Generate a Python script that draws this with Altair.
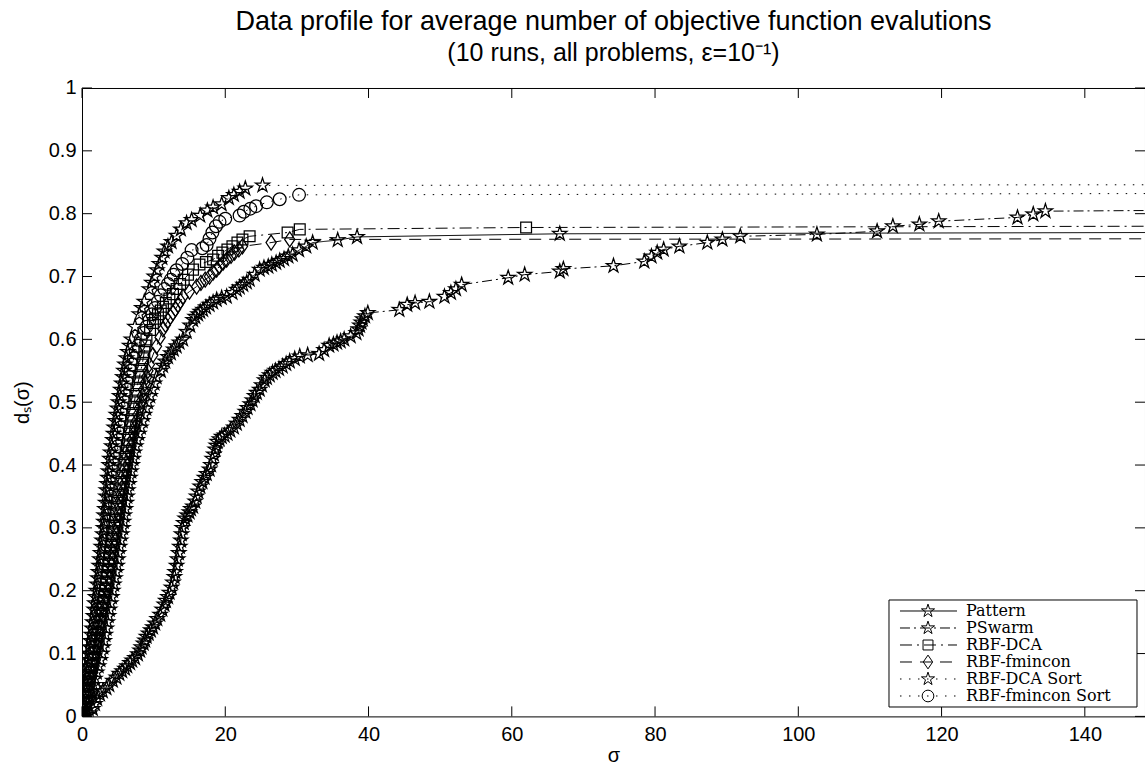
import altair as alt
import pandas as pd

# ---------------- data: (sigma, d_s) ----------------
series_names = ["Pattern", "PSwarm", "RBF-DCA", "RBF-fmincon", "RBF-DCA Sort", "RBF-fmincon Sort"]

pattern_pts = [
    (0.3, 0), (0.55, .01), (0.8, .02), (1.05, .03), (1.3, .04), (1.55, .05), (1.8, .06), (2.05, .07), (2.3, .08),
    (2.55, .09), (2.8, .10), (2.95, .11), (3.1, .12), (3.25, .13), (3.4, .14), (3.55, .15), (3.7, .16), (3.85, .17),
    (4.0, .18), (4.15, .19), (4.3, .20), (4.45, .21), (4.6, .22), (4.75, .23), (4.9, .24), (5.0, .25), (5.1, .26),
    (5.25, .27), (5.4, .28), (5.55, .29), (5.7, .30), (5.8, .31), (5.9, .32), (6.05, .33), (6.2, .34), (6.3, .35),
    (6.4, .36), (6.55, .37), (6.7, .38), (6.85, .39), (7.0, .40), (7.15, .41), (7.3, .42), (7.5, .43), (7.7, .44),
    (7.95, .45), (8.2, .46), (8.45, .47), (8.7, .48), (8.95, .49), (9.2, .50), (9.5, .51), (9.8, .52), (10.1, .53),
    (10.4, .54), (11.0, .55), (11.3, .558), (11.6, .565), (12.0, .572), (12.4, .578), (12.8, .584), (13.2, .589),
    (13.6, .595), (14.1, .60), (14.6, .612), (15.1, .622), (15.5, .631), (15.8, .636), (16.2, .64), (16.5, .644),
    (16.9, .647), (17.3, .651), (17.8, .655), (18.3, .659), (18.8, .663), (19.5, .666), (20.2, .668), (21.0, .674),
    (21.6, .679), (22.0, .683), (22.5, .687), (23.0, .691), (23.4, .695), (24.1, .703), (24.8, .711), (25.4, .714),
    (26.0, .716), (26.5, .719), (27.1, .722), (27.6, .725), (28.2, .728), (28.8, .732), (29.4, .735), (30.3, .742),
    (31.3, .748), (32.2, .754), (35.7, .758), (38.4, .763), (66.7, .768)]

pswarm_pts = [
    (0.5, 0), (0.8, .003), (1.1, .005), (1.5, .012), (1.8, .02), (2.1, .028), (2.5, .035), (2.9, .04), (3.4, .045),
    (3.8, .05), (4.3, .057), (4.8, .062), (5.2, .068), (5.6, .072), (6.0, .076), (6.3, .08), (6.7, .085), (7.0, .089),
    (7.4, .093), (7.8, .099), (8.1, .105), (8.3, .11), (8.6, .116), (8.8, .121), (9.0, .127), (9.3, .132),
    (9.6, .137), (9.9, .142), (10.2, .148), (10.5, .155), (10.9, .162), (11.2, .17), (11.5, .178), (11.7, .184),
    (12.0, .19), (12.2, .197), (12.5, .205), (12.7, .213), (12.9, .222), (13.0, .23), (13.2, .24), (13.35, .25),
    (13.5, .26), (13.65, .27), (13.8, .28), (13.9, .29), (14.0, .30), (14.2, .308), (14.4, .315), (14.7, .32),
    (15.0, .325), (15.2, .33), (15.5, .334), (15.8, .342), (16.0, .35), (16.2, .358), (16.5, .366), (16.8, .373),
    (17.1, .38), (17.4, .386), (17.8, .393), (18.0, .40), (18.2, .41), (18.4, .417), (18.6, .425), (18.75, .431),
    (18.9, .437), (19.2, .441), (19.5, .445), (19.9, .447), (20.3, .45), (20.7, .455), (21.2, .46), (21.6, .466),
    (22.0, .472), (22.4, .478), (22.8, .485), (23.1, .491), (23.5, .497), (23.8, .503), (24.1, .51), (24.4, .515),
    (24.8, .52), (25.1, .527), (25.5, .535), (25.8, .539), (26.2, .543), (26.6, .547), (27.0, .55), (27.5, .553),
    (28.0, .557), (28.5, .561), (29.0, .565), (29.7, .569), (30.4, .573), (31.5, .575), (33.1, .577), (33.8, .583),
    (34.5, .59), (35.1, .592), (35.6, .595), (36.1, .597), (36.6, .60), (37.5, .605), (38.3, .61), (38.6, .616),
    (38.8, .622), (39.0, .627), (39.2, .632), (39.5, .637), (39.9, .642), (44.3, .647), (45.4, .655), (46.5, .658),
    (48.5, .66), (50.6, .668), (51.5, .674), (52.2, .68), (53.0, .687), (59.5, .698), (61.8, .703), (66.7, .708),
    (67.2, .712), (74.2, .717), (78.5, .724), (79.5, .732), (80.3, .738), (81.2, .743), (83.4, .748), (87.3, .754),
    (89.4, .759), (91.9, .764), (102.6, .767), (111.0, .772), (113.2, .78), (116.9, .783), (119.6, .788),
    (130.6, .794), (132.8, .799), (134.5, .804)]

rbfdca_pts = [
    (0, 0), (0.25, .01), (0.5, .02), (0.65, .03), (0.8, .04), (0.95, .05), (1.1, .06), (1.25, .07), (1.4, .08),
    (1.55, .09), (1.7, .10), (1.85, .11), (2.0, .12), (2.15, .13), (2.3, .14), (2.45, .15), (2.6, .16), (2.75, .17),
    (2.9, .18), (3.05, .19), (3.2, .20), (3.3, .21), (3.4, .22), (3.55, .23), (3.7, .24), (3.8, .25), (3.9, .26),
    (4.05, .27), (4.2, .28), (4.35, .29), (4.5, .30), (4.6, .31), (4.7, .32), (4.8, .33), (4.9, .34), (5.05, .35),
    (5.2, .36), (5.35, .37), (5.5, .38), (5.65, .39), (5.8, .40), (5.95, .41), (6.1, .42), (6.25, .43), (6.4, .44),
    (6.55, .45), (6.7, .46), (6.85, .47), (7.0, .48), (7.15, .49), (7.3, .50), (7.45, .51), (7.6, .52), (7.8, .53),
    (8.0, .54), (8.2, .55), (8.4, .56), (8.55, .57), (8.7, .58), (8.85, .59), (9.0, .60), (9.5, .615), (9.9, .626),
    (10.2, .633), (10.6, .64), (11.0, .646), (11.3, .652), (11.7, .658), (12.2, .665), (12.7, .672), (13.2, .68),
    (13.7, .688), (14.2, .695), (14.8, .703), (15.5, .711), (16.4, .719), (17.3, .723), (18.3, .727), (19.0, .733),
    (19.6, .738), (20.3, .743), (21.0, .748), (21.7, .754), (22.4, .759), (23.4, .764), (28.7, .77), (30.4, .775),
    (62.0, .778)]

rbffmin_pts = [
    (0, 0), (0.3, .01), (0.6, .02), (0.8, .03), (1.0, .04), (1.15, .05), (1.3, .06), (1.5, .07), (1.7, .08),
    (1.85, .09), (2.0, .10), (2.15, .11), (2.3, .12), (2.45, .13), (2.6, .14), (2.75, .15), (2.9, .16), (3.05, .17),
    (3.2, .18), (3.4, .19), (3.6, .20), (3.75, .21), (3.9, .22), (4.0, .23), (4.1, .24), (4.25, .25), (4.4, .26),
    (4.55, .27), (4.7, .28), (4.85, .29), (5.0, .30), (5.15, .31), (5.3, .32), (5.4, .33), (5.5, .34), (5.65, .35),
    (5.8, .36), (5.95, .37), (6.1, .38), (6.25, .39), (6.4, .40), (6.55, .41), (6.7, .42), (6.85, .43), (7.0, .44),
    (7.2, .45), (7.4, .46), (7.6, .47), (7.8, .48), (8.0, .49), (8.2, .50), (8.4, .51), (8.6, .52), (8.8, .53),
    (9.0, .54), (9.2, .55), (9.4, .56), (9.9, .575), (10.4, .589), (10.9, .603), (11.3, .616), (11.65, .623),
    (12.0, .63), (12.35, .636), (12.7, .642), (13.05, .648), (13.4, .655), (13.75, .661), (14.1, .668), (15.0, .676),
    (16.0, .684), (16.6, .69), (17.2, .695), (17.8, .70), (18.3, .706), (18.8, .711), (19.2, .716), (19.7, .722),
    (20.2, .727), (20.8, .733), (21.3, .738), (21.9, .743), (22.4, .748), (26.4, .754), (29.0, .759)]

dcasort_pts = [
    (0, 0), (0.15, .01), (0.3, .02), (0.4, .03), (0.5, .04), (0.6, .05), (0.7, .06), (0.78, .07), (0.85, .08),
    (0.92, .09), (1.0, .10), (1.1, .11), (1.2, .12), (1.3, .13), (1.4, .14), (1.5, .15), (1.6, .16), (1.7, .17),
    (1.8, .18), (1.9, .19), (2.0, .20), (2.1, .21), (2.2, .22), (2.3, .23), (2.4, .24), (2.5, .25), (2.6, .26),
    (2.7, .27), (2.8, .28), (2.9, .29), (3.0, .30), (3.05, .31), (3.1, .32), (3.2, .33), (3.3, .34), (3.35, .35),
    (3.4, .36), (3.5, .37), (3.6, .38), (3.7, .39), (3.8, .40), (3.9, .41), (4.0, .42), (4.15, .43), (4.3, .44),
    (4.4, .45), (4.5, .46), (4.65, .47), (4.8, .48), (4.95, .49), (5.1, .50), (5.25, .51), (5.4, .52), (5.55, .53),
    (5.7, .54), (5.85, .55), (6.0, .56), (6.2, .57), (6.4, .58), (6.65, .59), (6.9, .60), (7.4, .62), (8.0, .64),
    (8.35, .65), (8.7, .66), (9.4, .68), (9.75, .69), (10.1, .70), (10.45, .71), (10.8, .72), (11.2, .73),
    (11.5, .74), (12.0, .748), (12.5, .755), (13.2, .765), (13.8, .775), (14.6, .785), (15.3, .79), (16.5, .797),
    (17.5, .805), (18.3, .81), (19.5, .815), (20.5, .825), (21.2, .83), (22.0, .835), (22.8, .84), (25.2, .845)]

fminsort_pts = [
    (0, 0), (0.2, .01), (0.4, .02), (0.55, .03), (0.7, .04), (0.8, .05), (0.9, .06), (1.0, .07), (1.1, .08),
    (1.2, .09), (1.3, .10), (1.4, .11), (1.5, .12), (1.65, .13), (1.8, .14), (1.9, .15), (2.0, .16), (2.1, .17),
    (2.2, .18), (2.35, .19), (2.5, .20), (2.6, .21), (2.7, .22), (2.8, .23), (2.9, .24), (3.0, .25), (3.1, .26),
    (3.2, .27), (3.3, .28), (3.4, .29), (3.5, .30), (3.6, .31), (3.7, .32), (3.8, .33), (3.9, .34), (4.0, .35),
    (4.1, .36), (4.2, .37), (4.3, .38), (4.45, .39), (4.6, .40), (4.75, .41), (4.9, .42), (5.0, .43), (5.1, .44),
    (5.25, .45), (5.4, .46), (5.55, .47), (5.7, .48), (5.85, .49), (6.0, .50), (6.15, .51), (6.3, .52), (6.45, .53),
    (6.6, .54), (6.8, .55), (7.0, .56), (7.25, .57), (7.5, .58), (7.85, .59), (8.2, .60), (8.6, .61), (9.0, .62),
    (9.4, .63), (9.8, .64), (10.2, .65), (10.6, .66), (11.0, .67), (11.5, .68), (12.0, .688), (12.4, .695),
    (12.8, .703), (13.2, .71), (14.0, .72), (14.7, .73), (15.3, .742), (16.8, .745), (17.4, .75), (17.8, .76),
    (18.2, .77), (18.7, .78), (19.2, .787), (20.0, .792), (22.0, .797), (22.6, .803), (23.5, .808), (24.3, .812),
    (25.8, .818), (27.6, .823), (30.3, .83)]

final_values = [0.770, 0.805, 0.780, 0.760, 0.846, 0.832]

x_ticks = [0, 20, 40, 60, 80, 100, 120, 140]
y_ticks = [0, 0.1, 0.2, 0.3, 0.4, 0.5, 0.6, 0.7, 0.8, 0.9, 1.0]
X_MAX = 148.4

# ---------------- tables ----------------
all_pts = [pattern_pts, pswarm_pts, rbfdca_pts, rbffmin_pts, dcasort_pts, fminsort_pts]
pt_rows, ln_rows = [], []
for name, pts, fv in zip(series_names, all_pts, final_values):
    for k, (a, b) in enumerate(pts):
        pt_rows.append({"series": name, "s": a, "d": b, "k": k})
        ln_rows.append({"series": name, "s": a, "d": b, "k": k})
    ln_rows.append({"series": name, "s": X_MAX, "d": fv, "k": len(pts)})
df_pts = pd.DataFrame(pt_rows)
df_lines = pd.DataFrame(ln_rows)

W, H = 1063, 628.4

STAR = ("M0,-1L0.223,-0.307L0.951,-0.309L0.361,0.117L0.588,0.809L0,0.38L-0.588,0.809"
        "L-0.361,0.117L-0.951,-0.309L-0.223,-0.307Z")
SQUARE = "M-0.72,-0.72L0.72,-0.72L0.72,0.72L-0.72,0.72Z"
DIAMOND = "M0,-1.0L0.68,0L0,1.0L-0.68,0Z"
CIRCLE = "M-0.85,0A0.85,0.85,0,1,0,0.85,0A0.85,0.85,0,1,0,-0.85,0Z"

shape_scale = alt.Scale(domain=series_names, range=[STAR, STAR, SQUARE, DIAMOND, STAR, CIRCLE])
dash_scale = alt.Scale(domain=series_names,
                       range=[[1, 0], [10, 4, 2, 4], [12, 5, 2, 5], [12, 8], [1.5, 7.5], [1.5, 7.5]])

xscale = alt.Scale(domain=[0, X_MAX], nice=False, zero=False)
yscale = alt.Scale(domain=[0, 1], nice=False, zero=False)

AX_FONT = "Liberation Sans"
xaxis = alt.Axis(values=x_ticks, ticks=False, domain=False, grid=False, labelFont=AX_FONT, labelFontSize=20,
                 labelColor="black", labelPadding=8, labelFlush=False, labelOverlap=False, format="~g",
                 title="σ", titleFont=AX_FONT, titleFontSize=20, titleFontWeight="normal", titleColor="black",
                 titlePadding=1)
yaxis = alt.Axis(values=y_ticks, ticks=False, domain=False, grid=False, labelFont=AX_FONT, labelFontSize=20,
                 labelColor="black", labelPadding=6, labelFlush=False, labelOverlap=False, format="~g",
                 title="dₛ(σ)", titleFont=AX_FONT, titleFontSize=20, titleFontWeight="normal",
                 titleColor="black", titlePadding=16)

lines = alt.Chart(df_lines).mark_line(clip=True, color="black", strokeWidth=1).encode(
    x=alt.X("s:Q", scale=xscale, axis=xaxis),
    y=alt.Y("d:Q", scale=yscale, axis=yaxis),
    strokeDash=alt.StrokeDash("series:N", scale=dash_scale, legend=None),
    order="k:Q",
)

points = alt.Chart(df_pts).mark_point(clip=True, filled=False, color="black", strokeWidth=1.25, opacity=1,
                                      size=225).encode(
    x=alt.X("s:Q"),
    y=alt.Y("d:Q"),
    shape=alt.Shape("series:N", scale=shape_scale, legend=None),
)

# inward tick marks on all four sides (MATLAB box style)
df_xt = pd.DataFrame({"s": x_ticks})
df_yt = pd.DataFrame({"d": y_ticks})
ticks_bottom = alt.Chart(df_xt).mark_rule(color="black", strokeWidth=1).encode(
    x="s:Q", y=alt.value(H), y2=alt.value(H - 10))
ticks_top = alt.Chart(df_xt).mark_rule(color="black", strokeWidth=1).encode(
    x="s:Q", y=alt.value(0), y2=alt.value(10))
ticks_left = alt.Chart(df_yt).mark_rule(color="black", strokeWidth=1).encode(
    y="d:Q", x=alt.value(0), x2=alt.value(10))
ticks_right = alt.Chart(df_yt).mark_rule(color="black", strokeWidth=1).encode(
    y="d:Q", x=alt.value(W - 10), x2=alt.value(W))

# ---------------- custom legend (line + marker + text) ----------------
LEG_X0, LEG_X1, LEG_Y0, LEG_Y1 = 807, 1055, 512, 619
ROW0, ROW_STEP = 523, 17
df_leg = pd.DataFrame({"series": series_names,
                       "py": [ROW0 + ROW_STEP * i for i in range(len(series_names))]})
leg_box = alt.Chart(pd.DataFrame({"a": [0]})).mark_rect(fill="white", stroke="black", strokeWidth=1).encode(
    x=alt.value(LEG_X0), x2=alt.value(LEG_X1), y=alt.value(LEG_Y0), y2=alt.value(LEG_Y1))
leg_lines = alt.Chart(df_leg).mark_rule(color="black", strokeWidth=1).encode(
    x=alt.value(818), x2=alt.value(875),
    y=alt.Y("py:Q", scale=None, axis=None),
    strokeDash=alt.StrokeDash("series:N", scale=dash_scale, legend=None),
)
leg_pts = alt.Chart(df_leg).mark_point(filled=False, color="black", strokeWidth=1, opacity=1, size=190).encode(
    x=alt.value(846),
    y=alt.Y("py:Q", scale=None, axis=None),
    shape=alt.Shape("series:N", scale=shape_scale, legend=None),
)
leg_text = alt.Chart(df_leg).mark_text(align="left", baseline="middle", font="DejaVu Serif", fontSize=16,
                                       color="black").encode(
    x=alt.value(884),
    y=alt.Y("py:Q", scale=None, axis=None),
    text="series:N",
)

chart = alt.layer(
    lines, points, ticks_bottom, ticks_top, ticks_left, ticks_right,
    leg_box, leg_lines, leg_pts, leg_text,
).properties(
    width=W, height=H,
    title=alt.TitleParams(
        text="Data profile for average number of objective function evalutions",
        subtitle="(10 runs, all problems, ε=10⁻¹)",
        font=AX_FONT, fontSize=27, fontWeight="normal", color="black", anchor="middle",
        subtitleFont=AX_FONT, subtitleFontSize=25, subtitleColor="black", subtitlePadding=5,
        offset=11),
    padding={"left": 82, "top": 88, "right": 0, "bottom": 52},
    autosize=alt.AutoSizeParams(type="none"),
    background="white",
).configure_view(stroke="black", strokeWidth=1)

chart.save("out.html", embed_options={"renderer": "svg", "actions": False})
